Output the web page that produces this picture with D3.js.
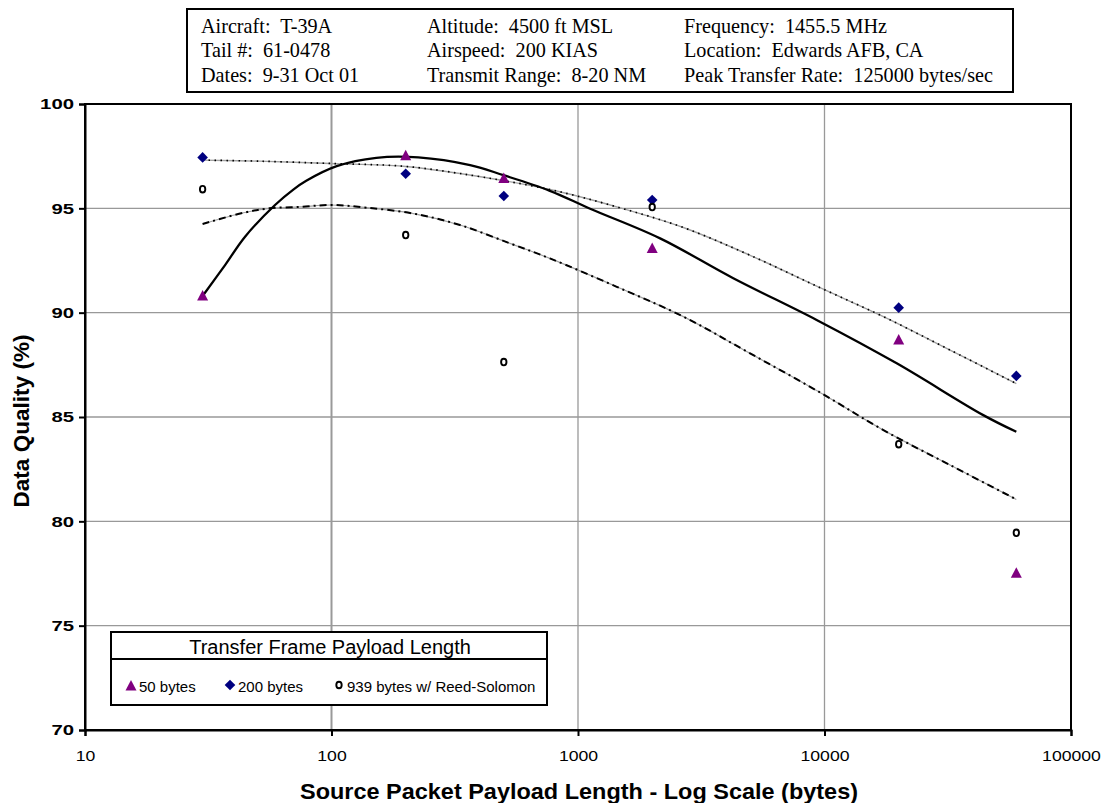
<!DOCTYPE html>
<html><head><meta charset="utf-8">
<script src="https://cdn.jsdelivr.net/npm/d3@7"></script>
<style>
body{margin:0;background:#fff;}
svg text{white-space:pre;}
</style></head>
<body><svg id="c" width="1106" height="803"></svg>
<script>
// ---- data ----
const packetSizes = [30, 200, 500, 2000, 20000, 60000];
const q50 = [90.8, 97.52, 96.43, 93.08, 88.69, 77.51];
const q200 = [97.44, 96.66, 95.59, 95.40, 90.24, 86.97];
const q939 = [95.92, 93.72, 87.63, 95.06, 83.70, 79.45];
// trend lines: [x, quality]
const trend50 = [[30,90.8],[37,92.28],[44.6,93.64],[59,95.16],[70,95.9],[79,96.32],[105,97.02],[152,97.42],[225,97.44],[365,97.07],[498,96.59],[769,95.84],[1120,94.98],[2153,93.56],[4265,91.65],[9290,89.65],[19630,87.57],[44060,85.09],[60000,84.29]];
const trend200 = [[30,97.31],[51,97.26],[99,97.15],[195,97.02],[332,96.67],[769,95.9],[1436,95.07],[2675,94.08],[4990,92.75],[9740,91.16],[17340,89.81],[32300,88.21],[60000,86.6]];
const trend939 = [[30,94.25],[44,94.79],[56,95.0],[74.5,95.07],[100,95.16],[139,95.03],[215,94.75],[332,94.2],[530,93.32],[769,92.6],[1436,91.24],[2675,89.81],[4990,88.05],[9740,86.13],[17340,84.37],[32300,82.7],[60000,81.05]];
const xTicks = [10, 100, 1000, 10000, 100000];
const yTicks = [70, 75, 80, 85, 90, 95, 100];
const headerCols = [
  ["Aircraft:  T-39A", "Tail #:  61-0478", "Dates:  9-31 Oct 01"],
  ["Altitude:  4500 ft MSL", "Airspeed:  200 KIAS", "Transmit Range:  8-20 NM"],
  ["Frequency:  1455.5 MHz", "Location:  Edwards AFB, CA", "Peak Transfer Rate:  125000 bytes/sec"]
];
const legendTitle = "Transfer Frame Payload Length";
const legendItems = ["50 bytes", "200 bytes", "939 bytes w/ Reed-Solomon"];

// ---- drawing ----
const svg = d3.select("#c");
const L = 85, R = 1071, T = 104, B = 730;
const x = d3.scaleLog().domain([10, 100000]).range([L, R]);
const y = d3.scaleLinear().domain([70, 100]).range([B, T]);
const SANS = "Liberation Sans, Arial, sans-serif";

// gridlines
const g = svg.append("g");
g.selectAll(".hg").data(yTicks.filter(d => d > 70 && d < 100)).join("line")
  .attr("x1", L).attr("x2", R).attr("y1", d => y(d)).attr("y2", d => y(d))
  .attr("stroke", "#999").attr("stroke-width", 1.3);
g.selectAll(".vg").data(xTicks.filter(d => d > 10 && d < 100000)).join("line")
  .attr("y1", T).attr("y2", B).attr("x1", d => x(d)).attr("x2", d => x(d))
  .attr("stroke", "#999").attr("stroke-width", d => d === 100 ? 2 : 1.3);

// frame
svg.append("rect").attr("x", L).attr("y", T).attr("width", R - L).attr("height", B - T)
  .attr("fill", "none").attr("stroke", "#000").attr("stroke-width", 2);

// axes
const yAxis = d3.axisLeft(y).tickValues(yTicks).tickSize(6).tickPadding(5).tickFormat(d3.format("d"));
const ya = svg.append("g").attr("transform", `translate(${L},0)`).call(yAxis);
ya.select(".domain").attr("stroke", "#000").attr("stroke-width", 2);
ya.selectAll(".tick line").attr("stroke", "#000").attr("stroke-width", 2);
ya.selectAll(".tick text").attr("font-family", SANS)
  .attr("font-size", 15).attr("font-weight", "bold").attr("fill", "#000")
  .attr("textLength", d => String(d).length * 11.3).attr("lengthAdjust", "spacingAndGlyphs");

const xAxis = d3.axisBottom(x).tickValues(xTicks).tickSize(6).tickPadding(14).tickFormat(d3.format("d"));
const xa = svg.append("g").attr("transform", `translate(0,${B})`).call(xAxis);
xa.select(".domain").attr("stroke", "#000").attr("stroke-width", 2);
xa.selectAll(".tick line").attr("stroke", "#000").attr("stroke-width", 2);
xa.selectAll(".tick text").attr("font-family", SANS)
  .attr("font-size", 15).attr("fill", "#000")
  .attr("textLength", d => String(d).length * 9.8).attr("lengthAdjust", "spacingAndGlyphs");

// axis titles
svg.append("text").attr("x", 579).attr("y", 799).attr("text-anchor", "middle")
  .attr("font-family", SANS).attr("font-size", 22).attr("font-weight", "bold")
  .attr("textLength", 558).attr("lengthAdjust", "spacingAndGlyphs")
  .text("Source Packet Payload Length - Log Scale (bytes)");
svg.append("text").attr("transform", "translate(29,421) rotate(-90)").attr("text-anchor", "middle")
  .attr("font-family", SANS).attr("font-size", 22).attr("font-weight", "bold")
  .attr("textLength", 173).attr("lengthAdjust", "spacingAndGlyphs")
  .text("Data Quality (%)");

// trend lines
const line = d3.line().x(d => x(d[0])).y(d => y(d[1])).curve(d3.curveCatmullRom.alpha(0.5));
// 200 bytes: dotted
svg.append("path").attr("d", line(trend200)).attr("fill", "none").attr("stroke", "#a0a0a0").attr("stroke-width", 1.4);
svg.append("path").attr("d", line(trend200)).attr("fill", "none").attr("stroke", "#000").attr("stroke-width", 1.7)
  .attr("stroke-dasharray", "1.5,4.5");
// 939 bytes: dash-dot
svg.append("path").attr("d", line(trend939)).attr("fill", "none").attr("stroke", "#a0a0a0").attr("stroke-width", 1.2);
svg.append("path").attr("d", line(trend939)).attr("fill", "none").attr("stroke", "#000").attr("stroke-width", 2)
  .attr("stroke-dasharray", "7,4,2,4");
// 50 bytes: solid
svg.append("path").attr("d", line(trend50)).attr("fill", "none").attr("stroke", "#000").attr("stroke-width", 2.3);

// markers
function triPath(cx, cy) { return `M${cx},${cy - 6}L${cx + 5.5},${cy + 4.5}L${cx - 5.5},${cy + 4.5}Z`; }
function diaPath(cx, cy) { return `M${cx},${cy - 5.3}L${cx + 5.3},${cy}L${cx},${cy + 5.3}L${cx - 5.3},${cy}Z`; }

svg.append("g").selectAll("path").data(packetSizes).join("path")
  .attr("d", (d, i) => diaPath(x(d), y(q200[i]))).attr("fill", "#000080");
svg.append("g").selectAll("path").data(packetSizes).join("path")
  .attr("d", (d, i) => triPath(x(d), y(q50[i]))).attr("fill", "#800080");
svg.append("g").selectAll("ellipse").data(packetSizes).join("ellipse")
  .attr("cx", d => x(d)).attr("cy", (d, i) => y(q939[i])).attr("rx", 2.7).attr("ry", 3.3)
  .attr("fill", "#fff").attr("stroke", "#000").attr("stroke-width", 1.9);

// legend
const lg = svg.append("g");
lg.append("rect").attr("x", 111).attr("y", 632).attr("width", 436).attr("height", 73)
  .attr("fill", "#fff").attr("stroke", "#000").attr("stroke-width", 2);
lg.append("line").attr("x1", 111).attr("x2", 547).attr("y1", 659).attr("y2", 659).attr("stroke", "#000").attr("stroke-width", 2);
lg.append("text").attr("x", 330).attr("y", 654).attr("text-anchor", "middle")
  .attr("font-family", SANS).attr("font-size", 20).text(legendTitle);
const legX = [131, 230, 339];
lg.append("path").attr("d", triPath(legX[0], 686)).attr("fill", "#800080");
lg.append("path").attr("d", diaPath(legX[1], 685)).attr("fill", "#000080");
lg.append("ellipse").attr("cx", legX[2]).attr("cy", 685).attr("rx", 2.7).attr("ry", 3.3)
  .attr("fill", "#fff").attr("stroke", "#000").attr("stroke-width", 1.9);
lg.selectAll(".lt").data(legendItems).join("text")
  .attr("x", (d, i) => legX[i] + 8).attr("y", 692)
  .attr("font-family", SANS).attr("font-size", 15).text(d => d);

// header box
const hg = svg.append("g");
hg.append("rect").attr("x", 187).attr("y", 9).attr("width", 826).attr("height", 83)
  .attr("fill", "#fff").attr("stroke", "#000").attr("stroke-width", 2);
const colX = [201, 427, 684];
const rowY = [33, 57, 82];
headerCols.forEach((col, ci) => {
  hg.selectAll(".h" + ci).data(col).join("text")
    .attr("x", colX[ci]).attr("y", (d, ri) => rowY[ri])
    .attr("font-family", "Liberation Serif, Times New Roman, serif").attr("font-size", 20.2)
    .text(d => d);
});
</script></body></html>
